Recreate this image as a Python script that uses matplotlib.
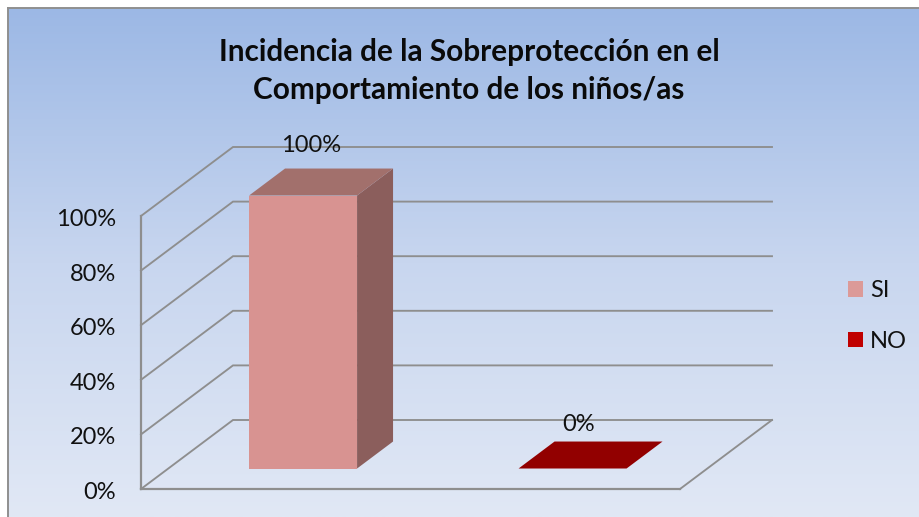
import numpy as np
import matplotlib
matplotlib.use("Agg")
import matplotlib.pyplot as plt
from matplotlib.patches import Polygon, Patch
from matplotlib.colors import LinearSegmentedColormap
from matplotlib.transforms import ScaledTranslation

title = "Incidencia de la Sobreprotección en el\nComportamiento de los niños/as"
categories = ["SI", "NO"]
values = [100, 0]
yticks = [0, 20, 40, 60, 80, 100]
ytick_labels = ["0%", "20%", "40%", "60%", "80%", "100%"]
value_labels = ["100%", "0%"]

FRONT = ["#d89391", "#c00000"]
SIDE = ["#8b5e5c", "#730000"]
TOP = ["#a2706c", "#920000"]
LEGEND = ["#dc9a98", "#c00000"]
GRID = "#8e8e8e"

W, H = 920, 517
plt.rcParams["font.family"] = ["Lato", "DejaVu Sans"]
fig = plt.figure(figsize=(W / 100, H / 100), dpi=100, facecolor="white")

def rect(l, t, r, b):
    return [l / W, 1 - b / H, (r - l) / W, (b - t) / H]

# background panel
bg = fig.add_axes(rect(8, 8, 920, 517), zorder=0)
cmap = LinearSegmentedColormap.from_list("bg", ["#9cb8e5", "#c8d6ef", "#e1e8f5"])
bg.imshow(np.linspace(0, 1, 256)[:, None], aspect="auto", cmap=cmap, vmin=0, vmax=1)
bg.set_xticks([]); bg.set_yticks([])
for s in ["right", "bottom"]:
    bg.spines[s].set_visible(False)
for s in ["left", "top"]:
    bg.spines[s].set_color("#8f8f8f")
    bg.spines[s].set_linewidth(1.4)

# plot axes: front face of the 3D box
ax = fig.add_axes(rect(141, 216, 680, 489), zorder=1)
ax.patch.set_alpha(0)
ax.set_xlim(0, 2)
ax.set_ylim(0, 100)
px_x = 539 / 2
px_y = 273 / 100
DX = 92 / px_x      # full depth of the box, in x units
DY = 69 / px_y      # full depth of the box, in y units

for s in ["top", "right"]:
    ax.spines[s].set_visible(False)
for s in ["left", "bottom"]:
    ax.spines[s].set_color(GRID)
    ax.spines[s].set_linewidth(1.6)
ax.set_xticks([])
ax.set_yticks(yticks)
ax.set_yticklabels(ytick_labels, fontsize=17, color="#111111")
ax.tick_params(axis="y", length=0, pad=18)
shift = ScaledTranslation(0, -1.5 / 100, fig.dpi_scale_trans)
for lab in ax.get_yticklabels():
    lab.set_transform(lab.get_transform() + shift)

# wall and floor lines
for v in yticks:
    ax.plot([0, DX, 2 + DX], [v, v + DY, v + DY], color=GRID, lw=1.35,
            clip_on=False, zorder=1, solid_joinstyle="miter")
ax.plot([2, 2 + DX], [0, DY], color=GRID, lw=1.35, clip_on=False, zorder=1)

# bars
bar_w = 108 / px_x
d0, d1 = 0.297, 0.688
for i, v in enumerate(values):
    l = i + 0.5 - bar_w / 2 + d0 * DX
    r = l + bar_w
    b = d0 * DY
    sx = (d1 - d0) * DX
    sy = (d1 - d0) * DY
    if v > 0:
        ax.add_patch(Polygon([(l, b), (r, b), (r, b + v), (l, b + v)], closed=True,
                             fc=FRONT[i], ec="none", clip_on=False, zorder=3))
        ax.add_patch(Polygon([(r, b), (r + sx, b + sy), (r + sx, b + sy + v), (r, b + v)],
                             closed=True, fc=SIDE[i], ec="none", clip_on=False, zorder=3))
    ax.add_patch(Polygon([(l, b + v), (r, b + v), (r + sx, b + sy + v), (l + sx, b + sy + v)],
                         closed=True, fc=TOP[i], ec="none", clip_on=False, zorder=3))
    off = (8, 50) if v > 0 else (6, 44)
    ax.annotate(value_labels[i], xy=((l + r) / 2, b + v), xytext=off,
                textcoords="offset pixels", ha="center", va="center",
                fontsize=17, color="#111111", zorder=4, annotation_clip=False)

# title
fig.text(469 / W, 1 - 71 / H, title, ha="center", va="center", fontsize=21.4,
         fontweight="bold", color="#0a0a0a", linespacing=1.42)

# legend
handles = [Patch(fc=c, ec="none", label=n) for c, n in zip(LEGEND, categories)]
fig.legend(handles=handles, loc="center left", bbox_to_anchor=(848 / W, 1 - 316 / H),
           frameon=False, fontsize=17, labelcolor="#111111", handlelength=0.635,
           handleheight=0.635, handletextpad=0.3, labelspacing=1.24, borderpad=0, borderaxespad=0)

fig.savefig("out.png", dpi=100)
